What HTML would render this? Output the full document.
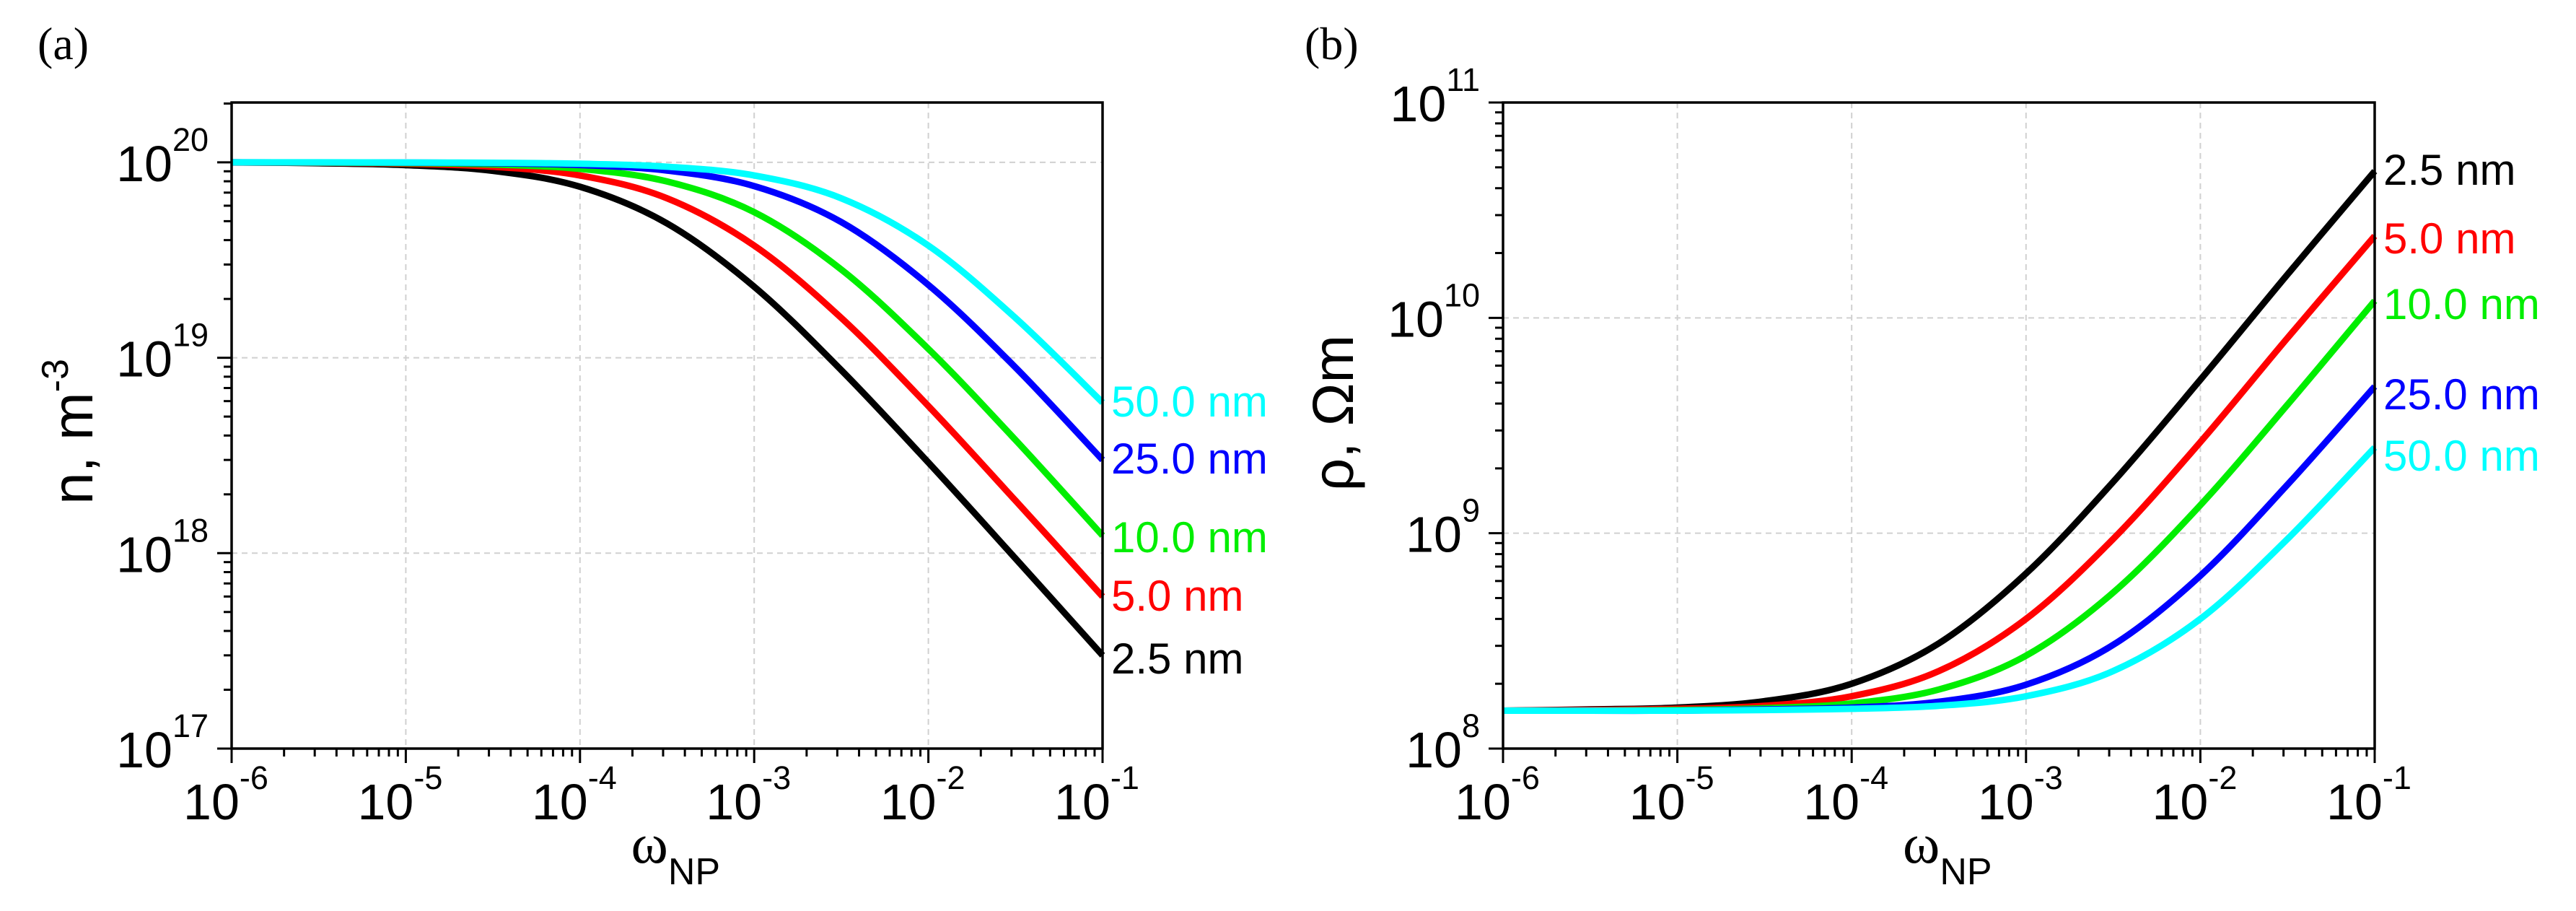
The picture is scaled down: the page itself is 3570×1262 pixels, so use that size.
<!DOCTYPE html>
<html><head><meta charset="utf-8"><style>
html,body{margin:0;padding:0;background:#fff;}
svg{display:block;font-family:"Liberation Sans",Arial,sans-serif;}
</style></head><body>
<svg id="fig" width="3570" height="1262" viewBox="0 0 3570 1262" xmlns="http://www.w3.org/2000/svg">
<text x="52" y="82" font-family="Liberation Serif,serif" font-size="64">(a)</text>
<text x="1808" y="82" font-family="Liberation Serif,serif" font-size="64">(b)</text>
</svg>
<script>
const xVals = [1e-6,3.16e-6,1e-5,3.16e-5,1e-4,3.16e-4,1e-3,3.16e-3,1e-2,3.16e-2,1e-1];
const sizeLabels = ["2.5 nm","5.0 nm","10.0 nm","25.0 nm","50.0 nm"];
const seriesColors = ["#000000","#ff0000","#00ee00","#0000ff","#00ffff"];
const nBlack = [1.00e20,0.99e20,0.968e20,0.905e20,0.75e20,4.87e19,2.31e19,8.65e18,2.91e18,9.4e17,3.0e17];
const nRed   = [9.98e19,9.95e19,9.84e19,9.50e19,8.57e19,6.55e19,3.75e19,1.60e19,5.66e18,1.86e18,6.0e17];
const nGreen = [9.99e19,9.97e19,9.92e19,9.75e19,9.26e19,7.98e19,5.56e19,2.83e19,1.11e19,3.8e18,1.23e18];
const nBlue  = [1e20,9.99e19,9.97e19,9.90e19,9.69e19,9.08e19,7.56e19,4.95e19,2.36e19,8.93e18,3.0e18];
const nCyan  = [1e20,1e20,9.98e19,9.95e19,9.84e19,9.50e19,8.57e19,6.55e19,3.75e19,1.60e19,5.9e18];
const rBlack = [1.50e8,1.52e8,1.55e8,1.66e8,2.0e8,3.08e8,6.5e8,1.73e9,5.16e9,1.59e10,4.8e10];
const rRed   = [1.50e8,1.51e8,1.53e8,1.58e8,1.75e8,2.29e8,4.0e8,9.4e8,2.65e9,8.06e9,2.4e10];
const rGreen = [1.50e8,1.50e8,1.51e8,1.54e8,1.62e8,1.88e8,2.7e8,5.3e8,1.35e9,3.95e9,1.2e10];
const rBlue  = [1.50e8,1.50e8,1.50e8,1.52e8,1.55e8,1.65e8,1.98e8,3.03e8,6.35e8,1.68e9,4.8e9];
const rCyan  = [1.50e8,1.50e8,1.50e8,1.51e8,1.53e8,1.58e8,1.75e8,2.29e8,4.0e8,9.4e8,2.5e9];
const xTickExps = [-6,-5,-4,-3,-2,-1];
const nTickExps = [17,18,19,20];
const rTickExps = [8,9,10,11];

const NS="http://www.w3.org/2000/svg";
const svg=document.getElementById('fig');
function mk(tag,attrs,parent){const e=document.createElementNS(NS,tag);for(const k in attrs)e.setAttribute(k,attrs[k]);(parent||svg).appendChild(e);return e;}

function panel(cfg){
  const {L,R,T,B,yMinExp,yMaxExp,series,labelX,labelY,yTicks,name}=cfg;
  const g=mk('g',{});
  
  
  const sx=v=>L+(Math.log10(v)+6)/5*(R-L);
  const sy=v=>B-(Math.log10(v)-yMinExp)/(yMaxExp-yMinExp)*(B-T);
  // grid
  for(let e=-5;e<=-2;e++){const l=mk('line',{x1:sx(Math.pow(10,e)),x2:sx(Math.pow(10,e)),y1:T,y2:B,stroke:'#d0d0d0','stroke-width':2,'stroke-dasharray':'8,6'},g);
    
    }
  yTicks.forEach(e=>{const y=sy(Math.pow(10,e));if(y>T+2&&y<B-2){const l=mk('line',{x1:L,x2:R,y1:y,y2:y,stroke:'#d0d0d0','stroke-width':2,'stroke-dasharray':'8,6'},g);
    
    }});
  // series
  series.forEach((s,i)=>{
    const pts=xVals.map((x,j)=>[sx(x),sy(s[j])]);
    let d='M'+pts[0][0]+','+pts[0][1];
    for(let j=0;j<pts.length-1;j++){
      const p0=pts[Math.max(0,j-1)],p1=pts[j],p2=pts[j+1],p3=pts[Math.min(pts.length-1,j+2)];
      const c1=[p1[0]+(p2[0]-p0[0])/6,p1[1]+(p2[1]-p0[1])/6];
      const c2=[p2[0]-(p3[0]-p1[0])/6,p2[1]-(p3[1]-p1[1])/6];
      d+=' C'+c1[0]+','+c1[1]+' '+c2[0]+','+c2[1]+' '+p2[0]+','+p2[1];
    }
    const p=mk('path',{d:d,fill:'none',stroke:seriesColors[i],'stroke-width':9,'stroke-linejoin':'round'},g);
    
    
  });
  // frame
  const f=mk('rect',{x:L,y:T,width:R-L,height:B-T,fill:'none',stroke:'#000','stroke-width':3.5},g);
  
  
  // x ticks
  xTickExps.forEach(e=>{
    const x=sx(Math.pow(10,e));
    mk('line',{x1:x,x2:x,y1:B,y2:B+20,stroke:'#000','stroke-width':3},g);
    if(e<-1)for(let m=2;m<=9;m++){const xm=sx(m*Math.pow(10,e));mk('line',{x1:xm,x2:xm,y1:B,y2:B+11,stroke:'#000','stroke-width':3},g);}
    const t=mk('text',{x:x-8,y:B+98,'font-size':70,'text-anchor':'middle'},g);
    
    
    t.textContent='10';
    const sup=mk('tspan',{dy:-42,'font-size':45},t);sup.textContent=String(e);
  });
  // y ticks
  yTicks.forEach(e=>{
    const y=sy(Math.pow(10,e));
    mk('line',{x1:L-20,x2:L,y1:y,y2:y,stroke:'#000','stroke-width':3},g);
    for(let m=2;m<=9;m++){const ym=sy(m*Math.pow(10,e));if(ym>=T-1)mk('line',{x1:L-11,x2:L,y1:ym,y2:ym,stroke:'#000','stroke-width':3},g);}
    const t=mk('text',{x:L-32,y:y+26,'font-size':70,'text-anchor':'end'},g);
    
    
    const a=mk('tspan',{},t);a.textContent='10';
    const b=mk('tspan',{dy:-42,'font-size':45},t);b.textContent=String(e);
  });
  // curve labels
  labelY.forEach((ly,i)=>{
    const t=mk('text',{x:labelX,y:ly+21,'font-size':60,fill:seriesColors[i]},g);
    
    
    t.textContent=sizeLabels[i];
  });
  // x title
  const cx=(L+R)/2;
  const xt=mk('text',{x:cx-50,y:1195,'font-size':78,'font-family':'Liberation Serif,serif'},g);
  
  
  xt.textContent='ω';
  const sub=mk('tspan',{dy:30,'font-size':52,'font-family':'Liberation Sans,sans-serif'},xt);sub.textContent='NP';
  return {sx,sy};
}

panel({name:'panel-a-plot',L:321,R:1528,T:142,B:1037,yMinExp:17,yMaxExp:17+(1037-142)/270.7,
  series:[nBlack,nRed,nGreen,nBlue,nCyan],labelX:1540,labelY:[912,825,744,635,556],yTicks:nTickExps});
panel({name:'panel-b-plot',L:2083,R:3291,T:142,B:1037,yMinExp:8,yMaxExp:11,
  series:[rBlack,rRed,rGreen,rBlue,rCyan],labelX:3303,labelY:[235,330,421,546,631],yTicks:rTickExps});

// y axis titles
const ya=mk('text',{transform:'translate(128,598) rotate(-90)','font-size':80,'text-anchor':'middle'});


ya.textContent='n, m';
const yas=mk('tspan',{dy:-34,'font-size':52},ya);yas.textContent='-3';
const yb=mk('text',{transform:'translate(1875,572) rotate(-90)','font-size':80,'text-anchor':'middle'});


yb.textContent='ρ, Ωm';
</script>
</body></html>
